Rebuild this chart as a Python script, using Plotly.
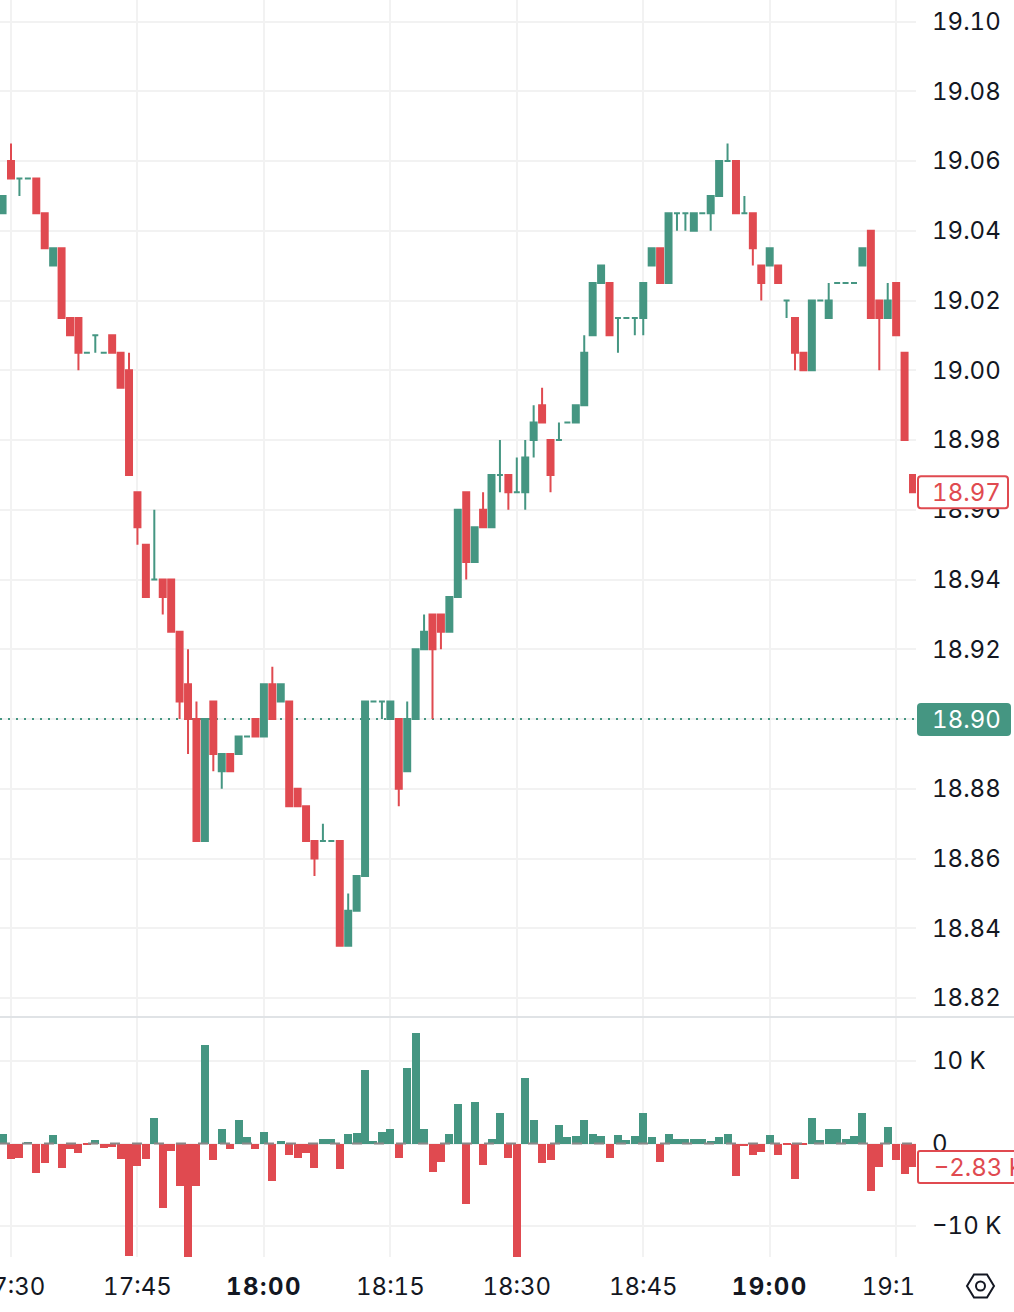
from datetime import datetime, timedelta
import plotly.graph_objects as go
from plotly.subplots import make_subplots

GREEN = "#459682"
RED = "#E04A50"
GRID = "#F2F2F2"
INK = "#131722"
FONT = "Inter"

# One-minute candles, first one at 17:29
opens = [
    19.045, 19.06, 19.055, 19.055, 19.055, 19.045, 19.03, 19.035, 19.015, 19.015,
    19.005, 19.01, 19.005, 19.01, 19.005, 19.00, 18.965, 18.95, 18.94, 18.94,
    18.94, 18.925, 18.91, 18.90, 18.865, 18.905, 18.885, 18.89, 18.89, 18.895,
    18.90, 18.895, 18.91, 18.905, 18.905, 18.88, 18.875, 18.865, 18.865, 18.865,
    18.865, 18.835, 18.845, 18.855, 18.905, 18.905, 18.90, 18.90, 18.885, 18.90,
    18.92, 18.93, 18.93, 18.925, 18.935, 18.965, 18.945, 18.96, 18.955, 18.97,
    18.97, 18.965, 18.965, 18.98, 18.99, 18.98, 18.98, 18.985, 18.985, 18.99,
    19.01, 19.025, 19.025, 19.015, 19.015, 19.015, 19.015, 19.03, 19.035, 19.025,
    19.045, 19.045, 19.04, 19.045, 19.045, 19.05, 19.06, 19.06, 19.045, 19.045,
    19.03, 19.03, 19.03, 19.02, 19.015, 19.005, 19.00, 19.02, 19.015, 19.025,
    19.025, 19.025, 19.03, 19.04, 19.02, 19.015, 19.025, 19.005, 18.97,
]
highs = [
    19.05, 19.065, 19.055, 19.055, 19.055, 19.045, 19.035, 19.035, 19.015, 19.015,
    19.005, 19.01, 19.005, 19.01, 19.005, 19.005, 18.965, 18.95, 18.96, 18.94,
    18.94, 18.925, 18.92, 18.905, 18.90, 18.905, 18.89, 18.89, 18.895, 18.895,
    18.90, 18.91, 18.915, 18.91, 18.905, 18.88, 18.875, 18.865, 18.87, 18.865,
    18.865, 18.85, 18.855, 18.905, 18.905, 18.905, 18.905, 18.90, 18.905, 18.92,
    18.93, 18.93, 18.93, 18.935, 18.96, 18.965, 18.955, 18.965, 18.97, 18.98,
    18.97, 18.975, 18.98, 18.99, 18.995, 18.98, 18.985, 18.985, 18.99, 19.01,
    19.025, 19.03, 19.025, 19.015, 19.015, 19.015, 19.025, 19.035, 19.035, 19.045,
    19.045, 19.045, 19.045, 19.045, 19.05, 19.06, 19.065, 19.06, 19.05, 19.045,
    19.03, 19.035, 19.03, 19.02, 19.015, 19.005, 19.02, 19.02, 19.025, 19.025,
    19.025, 19.025, 19.035, 19.04, 19.02, 19.025, 19.025, 19.005, 18.97,
]
lows = [
    19.045, 19.055, 19.05, 19.055, 19.045, 19.035, 19.03, 19.015, 19.01, 19.00,
    19.005, 19.005, 19.005, 19.005, 18.995, 18.97, 18.95, 18.935, 18.94, 18.93,
    18.925, 18.90, 18.89, 18.865, 18.865, 18.885, 18.88, 18.885, 18.89, 18.895,
    18.895, 18.895, 18.90, 18.905, 18.875, 18.875, 18.865, 18.855, 18.865, 18.865,
    18.835, 18.835, 18.845, 18.855, 18.905, 18.90, 18.90, 18.875, 18.885, 18.90,
    18.92, 18.90, 18.92, 18.925, 18.935, 18.94, 18.945, 18.955, 18.955, 18.965,
    18.96, 18.965, 18.96, 18.975, 18.985, 18.965, 18.98, 18.985, 18.985, 18.99,
    19.01, 19.025, 19.01, 19.005, 19.015, 19.01, 19.01, 19.03, 19.025, 19.025,
    19.04, 19.04, 19.04, 19.045, 19.04, 19.05, 19.06, 19.045, 19.045, 19.03,
    19.02, 19.03, 19.025, 19.015, 19.00, 19.00, 19.00, 19.02, 19.015, 19.025,
    19.025, 19.025, 19.03, 19.015, 19.00, 19.015, 19.01, 18.98, 18.965,
]
closes = [
    19.05, 19.055, 19.055, 19.055, 19.045, 19.035, 19.035, 19.015, 19.01, 19.005,
    19.005, 19.01, 19.005, 19.005, 18.995, 18.97, 18.955, 18.935, 18.94, 18.935,
    18.925, 18.905, 18.90, 18.865, 18.90, 18.89, 18.89, 18.885, 18.895, 18.895,
    18.895, 18.91, 18.90, 18.91, 18.875, 18.875, 18.865, 18.86, 18.865, 18.865,
    18.835, 18.845, 18.855, 18.905, 18.905, 18.905, 18.905, 18.88, 18.90, 18.92,
    18.925, 18.92, 18.925, 18.935, 18.96, 18.945, 18.955, 18.955, 18.97, 18.97,
    18.965, 18.965, 18.975, 18.985, 18.985, 18.97, 18.98, 18.985, 18.99, 19.005,
    19.025, 19.03, 19.01, 19.015, 19.015, 19.015, 19.025, 19.035, 19.025, 19.045,
    19.045, 19.045, 19.045, 19.045, 19.05, 19.06, 19.06, 19.045, 19.045, 19.035,
    19.025, 19.035, 19.025, 19.02, 19.005, 19.00, 19.02, 19.02, 19.02, 19.025,
    19.025, 19.025, 19.035, 19.015, 19.015, 19.02, 19.01, 18.98, 18.965,
]
# Per-minute delta, in thousands
delta = [
    1.1, -1.9, -1.7, 0.1, -3.6, -2.4, 1.0, -3.0, -0.7, -1.1,
    -0.15, 0.4, -0.6, -0.4, -1.9, -13.6, -2.7, -1.9, 3.15, -7.8,
    -0.85, -5.2, -13.7, -5.1, 11.9, -2.05, 1.7, -0.7, 2.8, 0.75,
    -0.7, 1.35, -4.5, 0.3, -1.45, -1.7, -1.1, -3.0, 0.5, 0.5,
    -3.15, 1.2, 1.3, 8.85, 0.35, 1.35, 1.7, -1.7, 9.1, 13.45,
    1.7, -3.4, -2.2, 1.2, 4.75, -7.3, 5.0, -2.55, 0.6, 3.65,
    -1.8, -13.7, 8.0, 2.9, -2.4, -2.05, 2.3, 0.75, 0.85, 2.9,
    1.1, 0.85, -1.8, 1.0, 0.4, 0.85, 3.65, 0.75, -2.3, 1.1,
    0.6, 0.5, 0.5, 0.6, 0.25, 0.75, 1.1, -3.9, -0.35, -1.45,
    -1.0, 1.0, -1.35, -0.15, -4.25, -0.15, 3.15, 0.4, 1.8, 1.7,
    0.5, 0.85, 3.75, -5.8, -2.9, 1.95, -1.95, -3.75, -2.83,
]
price_ticks = [18.82, 18.84, 18.86, 18.88, 18.90, 18.92, 18.94, 18.96, 18.98,
               19.00, 19.02, 19.04, 19.06, 19.08, 19.10]
delta_ticks = [-10, 0, 10]
delta_tick_text = ["−10 K", "0", "10 K"]
time_ticks = ["17:30", "17:45", "18:00", "18:15", "18:30", "18:45", "19:00", "19:15"]
time_tick_text = ["17:30", "17:45", "<b>18:00</b>", "18:15", "18:30", "18:45",
                  "<b>19:00</b>", "19:15"]
reference_price = 18.90
last_price = 18.965
last_price_text = "18.97"
last_delta_text = "−2.83 K"

WIDTH, HEIGHT = 1014, 1312
PLOT_W, PLOT_H = 916, 1257
PRICE_BOTTOM_PX = 1017
DELTA_TOP_PX = 1018


def px_x(x):
    return x / PLOT_W


def px_y(y):
    return 1 - y / PLOT_H


def at(hhmm):
    return datetime(2024, 1, 2, int(hhmm[:2]), int(hhmm[3:]))


start = at("17:29")
times = [start + timedelta(minutes=k) for k in range(len(opens))]
up = [c >= o for o, c in zip(opens, closes)]


def pick(values, flag):
    return [v for v, u in zip(values, up) if u == flag]


fig = make_subplots(rows=2, cols=1, shared_xaxes=True)

for flag, colour in ((True, GREEN), (False, RED)):
    style = dict(line=dict(color=colour, width=2), fillcolor=colour)
    fig.add_trace(
        go.Candlestick(
            x=pick(times, flag),
            open=pick(opens, flag),
            high=pick(highs, flag),
            low=pick(lows, flag),
            close=pick(closes, flag),
            increasing=style,
            decreasing=style,
            whiskerwidth=0,
            showlegend=False,
        ),
        row=1,
        col=1,
    )

fig.add_trace(
    go.Bar(
        x=times,
        y=delta,
        width=56900,
        marker=dict(color=[GREEN if v >= 0 else RED for v in delta], line=dict(width=0)),
        showlegend=False,
    ),
    row=2,
    col=1,
)

# Axis ranges: price and delta scales, minute spacing of about 8.43 px
MIN_PX = 8.43
x_left = at("17:30") - timedelta(minutes=11 / MIN_PX)
x_right = at("17:30") + timedelta(minutes=(PLOT_W - 11) / MIN_PX)
PRICE_PX = 3487.5
DELTA_PX = 8.25
price_axis = dict(
    range=[reference_price - (PRICE_BOTTOM_PX - 719) / PRICE_PX, reference_price + 719 / PRICE_PX],
    domain=[px_y(PRICE_BOTTOM_PX), 1],
    side="right",
    tickmode="array",
    tickvals=price_ticks,
    tickformat=".2f",
)
delta_axis = dict(
    range=[-(PLOT_H - 1143.5) / DELTA_PX, (1143.5 - DELTA_TOP_PX) / DELTA_PX],
    domain=[0, px_y(DELTA_TOP_PX)],
    side="right",
    tickmode="array",
    tickvals=delta_ticks,
    ticktext=delta_tick_text,
    zeroline=False,
)
common_y = dict(
    showgrid=True, gridcolor=GRID, gridwidth=2, ticks="", showline=False,
    tickfont=dict(family=FONT, size=24, color=INK), ticklabelstandoff=15,
    ticklabeloverflow="allow", automargin=False, fixedrange=True,
)
fig.update_layout(
    width=WIDTH,
    height=HEIGHT,
    margin=dict(l=0, r=WIDTH - PLOT_W, t=0, b=HEIGHT - PLOT_H, autoexpand=False),
    paper_bgcolor="white",
    plot_bgcolor="white",
    boxgap=0.29,
    boxgroupgap=0,
    bargap=0,
    yaxis={**price_axis, **common_y},
    yaxis2={**delta_axis, **common_y},
    xaxis=dict(
        range=[x_left, x_right], showgrid=True, gridcolor=GRID, gridwidth=2,
        rangeslider=dict(visible=False), tickmode="array",
        tickvals=[at(t) for t in time_ticks], ticktext=time_tick_text, showticklabels=False,
        ticks="", showline=False,
    ),
    xaxis2=dict(
        range=[x_left, x_right], showgrid=True, gridcolor=GRID, gridwidth=2,
        tickmode="array", tickvals=[at(t) for t in time_ticks], ticktext=time_tick_text,
        tickfont=dict(family=FONT, size=24, color=INK), ticks="", showline=False,
        ticklabelstandoff=13, ticklabeloverflow="allow",
    ),
)


def rounded_box(x0, y0, x1, y1, r):
    return (
        f"M{px_x(x0 + r)},{px_y(y0)} L{px_x(x1 - r)},{px_y(y0)} "
        f"Q{px_x(x1)},{px_y(y0)} {px_x(x1)},{px_y(y0 + r)} L{px_x(x1)},{px_y(y1 - r)} "
        f"Q{px_x(x1)},{px_y(y1)} {px_x(x1 - r)},{px_y(y1)} L{px_x(x0 + r)},{px_y(y1)} "
        f"Q{px_x(x0)},{px_y(y1)} {px_x(x0)},{px_y(y1 - r)} L{px_x(x0)},{px_y(y0 + r)} "
        f"Q{px_x(x0)},{px_y(y0)} {px_x(x0 + r)},{px_y(y0)} Z"
    )


def paper_shape(path, **kw):
    return dict(type="path", path=path, xref="paper", yref="paper", **kw)


price_y_px = 719 - (last_price - reference_price) * PRICE_PX
hexagon = [(967, 1286), (974, 1274.5), (987, 1274.5), (994, 1286), (987, 1297.5), (974, 1297.5)]
hexagon_path = "M" + " L".join(f"{px_x(x)},{px_y(y)}" for x, y in hexagon) + " Z"

shapes = [
    # Dotted level between the grid and the candles
    dict(type="line", xref="x", yref="y", x0=x_left, x1=x_right, y0=reference_price, y1=reference_price,
         line=dict(color=GREEN, width=2, dash="2px,6px"), layer="between"),
    # Pane separator
    dict(type="line", xref="paper", yref="paper", x0=0, x1=WIDTH / PLOT_W,
         y0=px_y(1017), y1=px_y(1017), line=dict(color="#E0E3E6", width=2)),
    # Dashed zero line of the delta pane
    dict(type="line", xref="paper", yref="y2", x0=0, x1=1, y0=0, y1=0,
         line=dict(color="#888888", width=2, dash="10px,12px")),
    # Time labels stop at the edge of the plot
    dict(type="rect", xref="paper", yref="paper", x0=1, x1=px_x(962), y0=px_y(1262), y1=px_y(1312),
         fillcolor="white", line=dict(width=0)),
    # Price tags
    paper_shape(rounded_box(917, 703, 1011, 736, 4), fillcolor=GREEN, line=dict(width=0)),
    paper_shape(rounded_box(918, price_y_px - 16, 1008, price_y_px + 16, 3), fillcolor="white",
                line=dict(color=RED, width=2)),
    paper_shape(rounded_box(918, 1151, 1030, 1183, 2), fillcolor="white",
                line=dict(color=RED, width=2)),
    # Settings icon
    paper_shape(hexagon_path, line=dict(color=INK, width=2)),
    dict(type="circle", xref="paper", yref="paper", x0=px_x(976), x1=px_x(985),
         y0=px_y(1290.5), y1=px_y(1281.5), line=dict(color=INK, width=2)),
]
fig.update_layout(shapes=shapes)

tag_font = dict(family=FONT, size=24)
fig.update_layout(
    annotations=[
        dict(x=px_x(933.5), y=px_y(719.5), xref="paper", yref="paper", xanchor="left", yanchor="middle",
             text=f"{reference_price:.2f}", showarrow=False, font=dict(color="white", **tag_font)),
        dict(x=px_x(935), y=px_y(price_y_px), xref="paper", yref="paper", xanchor="left",
             yanchor="middle", text=last_price_text, showarrow=False, font=dict(color=RED, **tag_font)),
        dict(x=px_x(933), y=px_y(1167.5), xref="paper", yref="paper", xanchor="left", yanchor="middle",
             text=last_delta_text, showarrow=False, font=dict(color=RED, **tag_font)),
    ]
)

# Numbers use tabular figures; the hour labels sit a little wider
TEXT_STYLE = """
document.querySelectorAll('.main-svg text').forEach(function (t) {
  t.style.fontFeatureSettings = '"tnum"';
});
document.querySelectorAll('.x2tick text').forEach(function (t) {
  if (t.innerHTML.indexOf('bold') !== -1) {
    t.style.letterSpacing = '1.5px';
    t.style.fontWeight = '800';
  }
});
"""
fig.write_html("out.html", config=dict(displayModeBar=False), post_script=TEXT_STYLE)
